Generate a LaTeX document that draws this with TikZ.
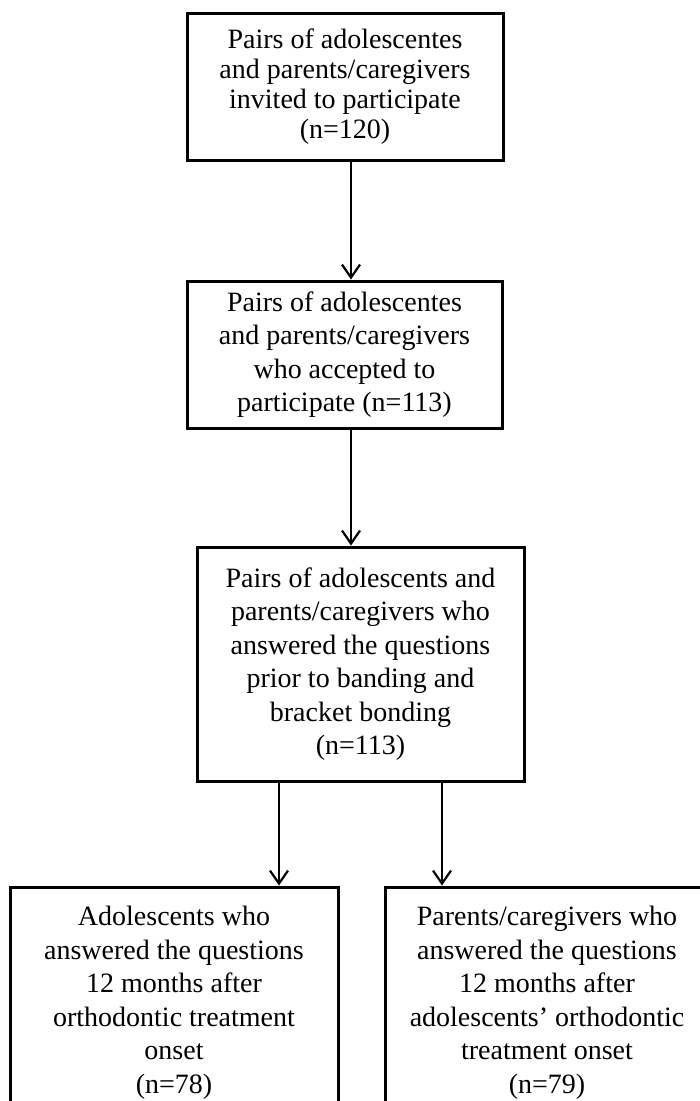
\documentclass[tikz,border=0pt]{standalone}
\usepackage{fontspec}
\setmainfont{Liberation Serif}
\usetikzlibrary{arrows.meta}
\tikzset{
  flowbox/.style={draw,line width=3pt,align=center,inner sep=0pt,
    font=\fontsize{28}{33.5}\selectfont},
  flowarrow/.style={line width=2.2pt,-{Straight Barb[length=13pt,width=18pt,line width=2.2pt]}}
}
\begin{document}
\begin{tikzpicture}[x=1pt,y=-1pt]
      \useasboundingbox (0,0) rectangle (700,1101);
      \clip (0,0) rectangle (700,1101);
      \fill[white] (0,0) rectangle (700,1101);
      \node[flowbox,minimum width=316pt,minimum height=147pt,
        font=\fontsize{28}{30}\selectfont] (invited) at (345,86.5)
        {Pairs of adolescentes\\and parents/caregivers\\invited to participate\\(n=120)};
      \node[flowbox,minimum width=315pt,minimum height=147pt] (accepted) at (344.5,354.5)
        {Pairs of adolescentes\\and parents/caregivers\\who accepted to\\participate (n=113)};
      \node[flowbox,minimum width=327pt,minimum height=234pt] (baseline) at (360.5,664)
        {Pairs of adolescents and\\parents/caregivers who\\answered the questions\\prior to banding and\\bracket bonding\\(n=113)};
      \node[flowbox,minimum width=328pt,minimum height=232pt] (adol) at (174,1003)
        {Adolescents who\\answered the questions\\12 months after\\orthodontic treatment\\onset\\(n=78)};
      \node[flowbox,minimum width=324pt,minimum height=232pt] (parents) at (547,1003)
        {Parents/caregivers who\\answered the questions\\12 months after\\adolescents’ orthodontic\\treatment onset\\(n=79)};
      \draw[flowarrow] ([xshift=6pt]invited.south) -- ([xshift=6.5pt]accepted.north);
      \draw[flowarrow] ([xshift=6.5pt]accepted.south) -- ([xshift=-9.5pt]baseline.north);
      \draw[flowarrow] ([xshift=-81.5pt]baseline.south) -- (adol.north -| 279,0);
      \draw[flowarrow] ([xshift=81.5pt]baseline.south) -- (parents.north -| 442,0);
\end{tikzpicture}
\end{document}
